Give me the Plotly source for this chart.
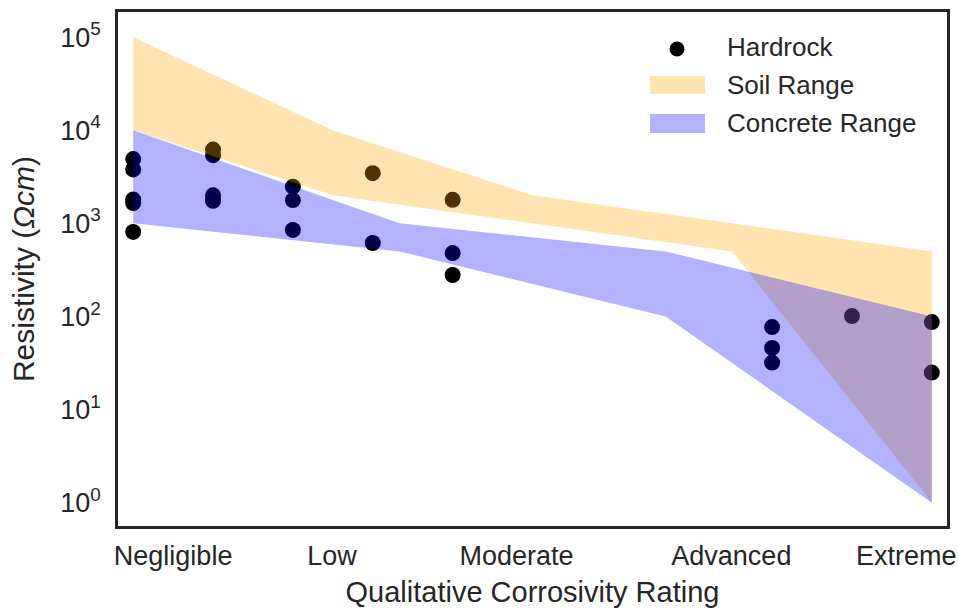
import plotly.graph_objects as go

# ---------------- data ----------------
categories = ["Negligible", "Low", "Moderate", "Advanced", "Extreme"]
category_pos = [0.5, 2.49, 4.8, 7.49, 9.68]

hard_x = [0, 0, 0, 0, 0, 1, 1, 1, 1, 2, 2, 2, 3, 3, 4, 4, 4, 8, 8, 8, 9, 10, 10]
hard_y = [4900, 3800, 1800, 1650, 810, 6200, 5400, 2000, 1750, 2480, 1780, 850,
          3460, 615, 1790, 480, 279, 77, 46, 32, 101, 87, 25]

soil_x = [0, 2.5, 5, 7.5, 10]
soil_upper = [100000, 10000, 2000, 1000, 500]
soil_lower = [10000, 2000, 1000, 500, 1]

conc_x = [0, 10 / 3, 20 / 3, 10]
conc_upper = [10000, 1000, 500, 100]
conc_lower = [1000, 500, 100, 1]

y_tickvals = [1, 10, 100, 1000, 10000, 100000]
y_ticktext = ["10<sup>%d</sup>" % i for i in range(6)]

legend_names = ["Hardrock", "Soil Range", "Concrete Range"]

# ---------------- style ----------------
TXT = "#262626"
FONT = "Liberation Sans, Arial, sans-serif"
SOIL_C = "rgba(255,165,0,0.3)"
CONC_C = "rgba(0,0,255,0.3)"

W, H = 959, 608
L, R, T, B = 118, 12, 12, 82


def xp(px):
    return (px - L) / (W - L - R)


def yp(py):
    return (H - B - py) / (H - T - B)


fig = go.Figure()

fig.add_trace(go.Scatter(
    x=hard_x, y=hard_y, mode="markers", name=legend_names[0],
    marker=dict(color="black", size=16, line=dict(width=0)),
    showlegend=False, hoverinfo="x+y"))

fig.add_trace(go.Scatter(
    x=soil_x + soil_x[::-1], y=soil_upper + soil_lower[::-1],
    mode="lines", fill="toself", fillcolor=SOIL_C, line=dict(width=0),
    name=legend_names[1], showlegend=False))

fig.add_trace(go.Scatter(
    x=conc_x + conc_x[::-1], y=conc_upper + conc_lower[::-1],
    mode="lines", fill="toself", fillcolor=CONC_C, line=dict(width=0),
    name=legend_names[2], showlegend=False))

# ---------------- custom legend ----------------
shapes = []
annotations = []
shapes.append(dict(type="circle", xref="paper", yref="paper",
                   xsizemode="pixel", ysizemode="pixel",
                   xanchor=xp(677), yanchor=yp(49),
                   x0=-7.5, x1=7.5, y0=-7.5, y1=7.5,
                   fillcolor="black", line=dict(width=0)))
for (py0, py1, col) in [(76, 94, SOIL_C), (114, 133, CONC_C)]:
    shapes.append(dict(type="rect", xref="paper", yref="paper",
                       x0=xp(650), x1=xp(705), y0=yp(py1), y1=yp(py0),
                       fillcolor=col, line=dict(width=0)))
for name, py in zip(legend_names, [47, 85, 123]):
    annotations.append(dict(text=name, xref="paper", yref="paper",
                            x=xp(725), y=yp(py), xanchor="left", yanchor="middle",
                            showarrow=False, font=dict(size=26, color=TXT, family=FONT)))

fig.update_layout(
    width=W, height=H,
    margin=dict(l=L, r=R, t=T, b=B, autoexpand=False),
    paper_bgcolor="white", plot_bgcolor="white",
    font=dict(family=FONT, color=TXT),
    shapes=shapes, annotations=annotations,
    showlegend=False,
)

fig.update_xaxes(
    range=[-0.19, 10.19], tickvals=category_pos, ticktext=categories,
    showgrid=False, zeroline=False, showline=True, mirror=True, automargin=False,
    linecolor=TXT, linewidth=2.5, ticks="outside", ticklen=4,
    tickcolor="rgba(0,0,0,0)", tickfont=dict(size=27, color=TXT, family=FONT),
    title=dict(text="Qualitative Corrosivity Rating",
               font=dict(size=29, color=TXT, family=FONT), standoff=26),
)
fig.update_yaxes(
    type="log", range=[-0.25, 5.27], tickvals=y_tickvals, ticktext=y_ticktext,
    showgrid=False, zeroline=False, showline=True, mirror=True, automargin=False,
    linecolor=TXT, linewidth=2.5, ticks="outside", ticklen=9,
    tickcolor="rgba(0,0,0,0)", tickfont=dict(size=27, color=TXT, family=FONT),
    title=dict(text="Resistivity (<i>Ωcm</i>)",
               font=dict(size=30, color=TXT, family=FONT), standoff=17),
)

fig.write_html(
    "out.html",
    config={"displayModeBar": False},
    post_script="document.body.style.margin='0';document.body.style.padding='0';"
                "document.body.style.overflow='hidden';",
)
